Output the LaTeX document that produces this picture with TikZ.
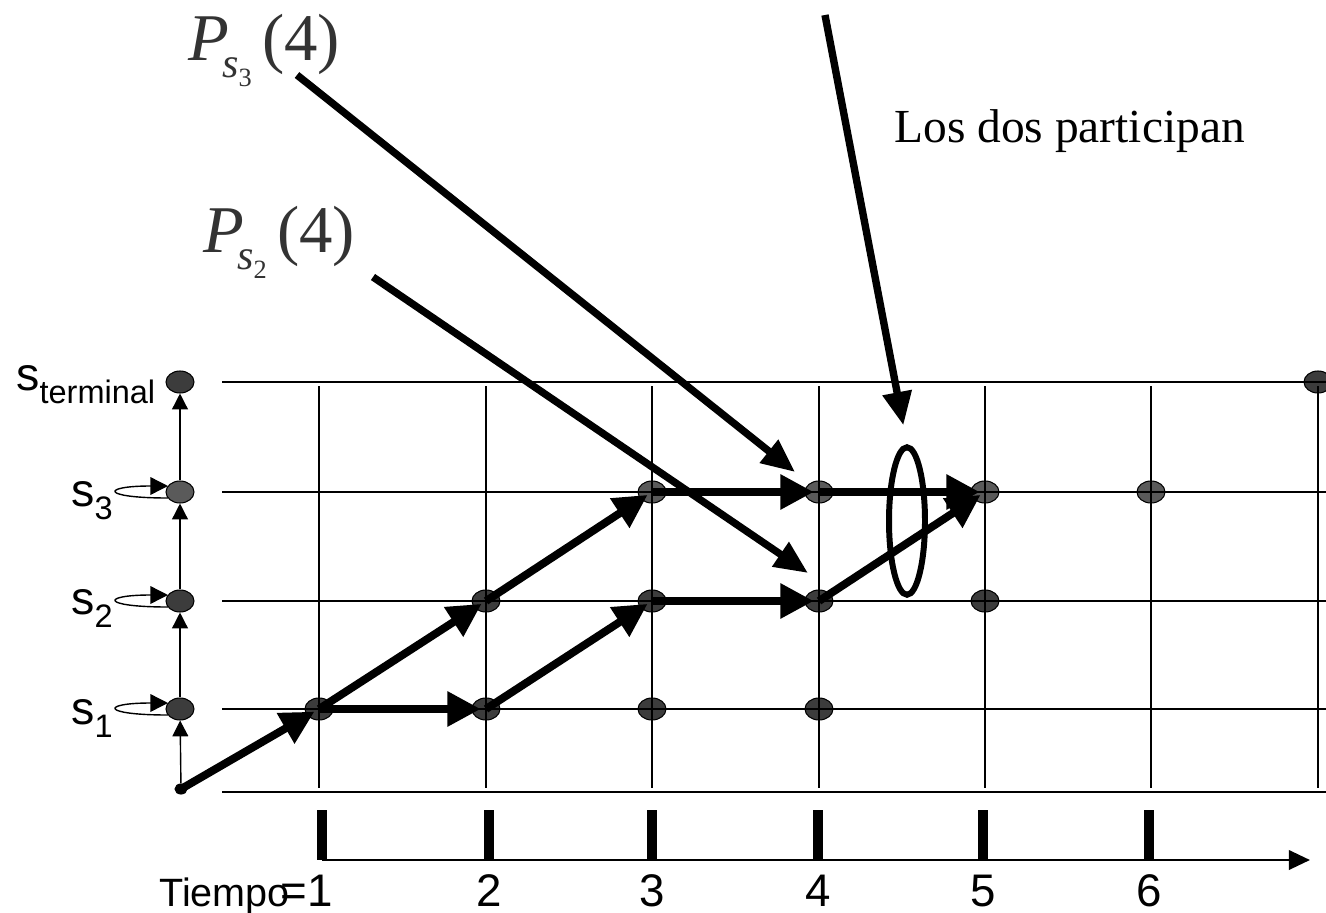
\documentclass[tikz,border=0pt]{standalone}
\usepackage{fontspec}
\setmainfont{Liberation Serif}
\setsansfont{Liberation Sans}
\usetikzlibrary{arrows.meta, shapes.geometric}
\definecolor{dotdark}{HTML}{3C3C3C}
\definecolor{dotlight}{HTML}{5A5A5A}
\newcommand{\ssub}[1]{\raisebox{-7.4pt}{\fontsize{18.5}{18.5}\selectfont #1}}
\newcommand{\plabel}[1]{\textit{P}\kern-4pt\raisebox{-10pt}{\fontsize{24}{24}\selectfont\textit{s}\raisebox{-5pt}{\fontsize{15}{15}\selectfont #1}}\kern6pt(4)}
\tikzset{
  grid line/.style={line width=1pt},
  dot/.style={ellipse, draw, line width=0.6pt, fill=dotdark,
    minimum width=0.56cm, minimum height=0.44cm, inner sep=0pt},
  dot light/.style={dot, fill=dotlight},
  move/.style={line width=4.5pt, -{Triangle[length=19pt,width=19pt]}, shorten >=3pt},
  pointer/.style={line width=4.2pt, -{Triangle[length=19pt,width=16pt]}},
  climb/.style={line width=0.8pt, -{Triangle[length=9pt,width=9pt]}},
  self loop/.style={line width=0.8pt, -{Triangle[length=10pt,width=10pt]}},
  slabel/.style={font=\sffamily\fontsize{26.5}{26.5}\selectfont, inner sep=0pt, anchor=base west},
  plbl/.style={font=\fontsize{38}{38}\selectfont, text=black!80, inner sep=0pt, anchor=base west},
  note/.style={font=\fontsize{27}{27}\selectfont, inner sep=0pt, anchor=base west},
  tlbl/.style={font=\sffamily\fontsize{26}{26}\selectfont, inner sep=0pt, anchor=base west},
  time axis/.style={line width=1.5pt, -{Triangle[length=12pt,width=11pt]}},
  tick/.style={line width=5.7pt}
}

\begin{document}
\begin{tikzpicture}[x=0.02cm, y=-0.02cm]
    \useasboundingbox (0,0) rectangle (1326,913);

    % Columns (time) and rows (states)
    \foreach \t/\x in {1/319, 2/486, 3/652, 4/819, 5/985, 6/1151, 7/1318}
      \coordinate (c\t) at (\x,0);
    \foreach \s/\y in {1/709, 2/601, 3/492, 4/382}
      \coordinate (r\s) at (0,\y);

    % Visited states
    \foreach \t/\s in {1/1, 2/1, 3/1, 4/1, 2/2, 3/2, 4/2, 5/2, 7/4}
      \node[dot] (d\t\s) at (c\t |- r\s) {};
    \foreach \t in {3,4,5,6}
      \node[dot light] (d\t3) at (c\t |- r3) {};

    % Grid
    \foreach \y in {382, 492, 601, 709, 792}
      \draw[grid line] (222,\y) -- (1326,\y);
    \foreach \x in {319, 486, 652, 819, 985, 1151, 1318}
      \draw[grid line] (\x,386) -- (\x,788);

    % State chain on the left
    \node[dot, fill=black, minimum width=0.24cm, minimum height=0.2cm] (start) at (181,789) {};
    \node[dot] (L1) at (180,709) {};
    \node[dot] (L2) at (180,601) {};
    \node[dot light] (L3) at (180,492) {};
    \node[dot] (LT) at (180,382) {};
    \draw[climb] (start) -- (L1);
    \draw[climb] (L1) -- (L2);
    \draw[climb] (L2) -- (L3);
    \draw[climb] (L3) -- (LT);
    \foreach \s in {1,2,3}
      \draw[self loop] (L\s.center) ++(-12,6) to[out=180, in=180, distance=1.35cm] ++(0,-12);

    % State labels
    \node[slabel] (lT) at (16,390) {s\ssub{terminal}};
    \node[slabel] (l3) at (71,506) {s\ssub{3}};
    \node[slabel] (l2) at (71,614) {s\ssub{2}};
    \node[slabel] (l1) at (71,724) {s\ssub{1}};

    % Trajectories
    \draw[move] (start.center) -- (d11.center);
    \draw[move] (d11.center) -- (d21.center);
    \draw[move] (d11.center) -- (d22.center);
    \draw[move] (d22.center) -- (d33.center);
    \draw[move] (d21.center) -- (d32.center);
    \draw[move] (d32.center) -- (d42.center);
    \draw[move] (d33.center) -- (d43.center);
    \draw[move] (d43.center) -- (d53.center);
    \draw[move] (d42.center) -- (d53.center);

    % Both transitions take part
    \node[ellipse, draw, line width=3.4pt, minimum width=0.72cm, minimum height=2.95cm, inner sep=0pt] (both) at (907,521) {};

    % Annotations
    \node[plbl] (ps3) at (188,60) {\plabel{3}};
    \node[plbl] (ps2) at (203,252) {\plabel{2}};
    \node[note] (both lbl) at (894,142) {Los dos participan};
    \coordinate (ps3 tail) at (297,75);
    \coordinate (ps3 head) at (795,472);
    \coordinate (ps2 tail) at (373,277);
    \coordinate (ps2 head) at (808,573);
    \coordinate (both tail) at (825,15);
    \draw[pointer] (ps3 tail) -- (ps3 head);
    \draw[pointer] (ps2 tail) -- (ps2 head);
    \draw[pointer, shorten >=11pt] (both tail) -- (both.north);

    % Time axis
    \coordinate (axis start) at (322,860);
    \coordinate (axis end) at (1310,860);
    \draw[time axis] (axis start) -- (axis end);
    \foreach \x in {322, 489, 652, 818, 983, 1149}
      \draw[tick] (\x,810) -- (\x,860);
    \node[tlbl] (tiempo) at (159,906) {{\fontsize{22.5}{22.5}\selectfont Tiempo}\kern-5pt=1};
    \foreach \x/\n in {489/2, 652/3, 818/4, 983/5, 1149/6}
      \node[tlbl, anchor=base] (n\n) at (\x,906) {\n};
\end{tikzpicture}
\end{document}
